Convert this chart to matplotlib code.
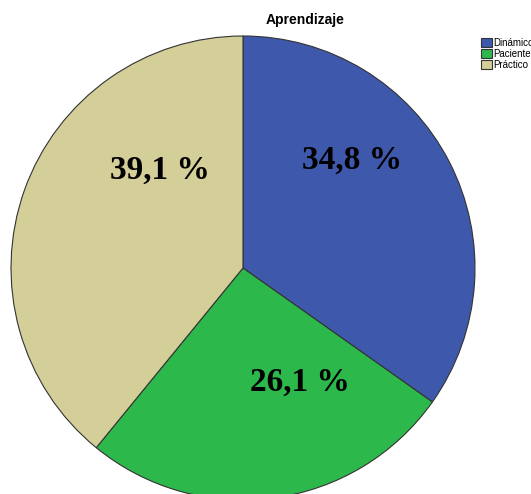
import matplotlib.pyplot as plt

# datos
categorias = ['Dinámico', 'Paciente', 'Práctico']
porcentajes = [34.8, 26.1, 39.1]
etiquetas = ['34,8 %', '26,1 %', '39,1 %']
colores = ['#3E58AC', '#2DB84B', '#D4CE99']

# posiciones de etiquetas en pixeles (x, y desde arriba)
pos_px = [(352, 160), (300, 382), (160, 170)]

fig = plt.figure(figsize=(5.31, 4.94), dpi=100)
ax = fig.add_axes([0, 0, 1, 1])

wedges, _ = ax.pie(porcentajes, colors=colores, startangle=90, counterclock=False,
                   radius=1, center=(0, 0),
                   wedgeprops=dict(edgecolor='#333333', linewidth=0.8))

for lab, (px, py) in zip(etiquetas, pos_px):
    ax.text((px - 243) / 232, (268 - py) / 232, lab, ha='center', va='center',
            fontsize=24, fontweight='bold', family='Liberation Serif')

# escala 232 px por unidad, centro en (243, 268)
ax.set_xlim(-243 / 232, (531 - 243) / 232)
ax.set_ylim((268 - 494) / 232, 268 / 232)
ax.set_aspect('auto')
ax.axis('off')

fig.text(305 / 531, 1 - 20 / 494, 'Aprendizaje', ha='center', va='center',
         fontsize=10, fontweight='bold', family='Liberation Sans')

fig.legend(wedges, categorias, loc='upper left', bbox_to_anchor=(474 / 531, 1 - 31 / 494),
           frameon=False, handlelength=1.1, handleheight=1.0,
           handletextpad=0.2, labelspacing=0.1, borderpad=0.2,
           prop={'family': 'Liberation Sans', 'size': 7})

fig.savefig('out.png', dpi=100)
